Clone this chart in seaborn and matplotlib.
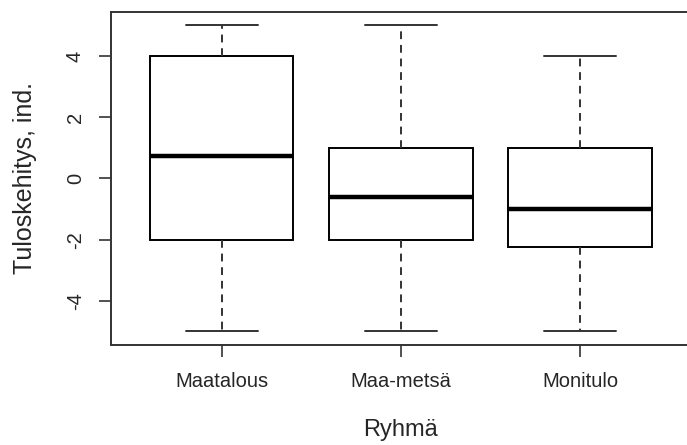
import pandas as pd
import matplotlib
matplotlib.use("Agg")
import matplotlib.pyplot as plt
import seaborn as sns

# Ryhmät ja viiden luvun yhteenveto (min, Q1, mediaani, Q3, max) kuvasta luettuna
groups = ["Maatalous", "Maa-metsä", "Monitulo"]
maatalous = [-5, -2, 0.72, 4, 5]
maa_metsa = [-5, -2, -0.6, 1, 5]
monitulo = [-5, -2.25, -1.0, 1, 4]
yticks = [-4, -2, 0, 2, 4]

df = pd.DataFrame({
    "Ryhmä": [groups[0]] * len(maatalous) + [groups[1]] * len(maa_metsa) + [groups[2]] * len(monitulo),
    "Tulos": maatalous + maa_metsa + monitulo,
})

sns.set_style("white")
plt.rcParams["font.family"] = ["Liberation Sans", "DejaVu Sans"]

fig = plt.figure(figsize=(6.87, 4.45), dpi=100)
ax = fig.add_axes([0.161, 0.225, 0.845, 0.748])

sns.boxplot(
    data=df, x="Ryhmä", y="Tulos", order=groups, ax=ax,
    color="white", linecolor="black", linewidth=1.4, width=0.8,
    whis=(0, 100), showfliers=False,
    whiskerprops=dict(linestyle=(0, (4, 3)), color="#333333"),
    capprops=dict(color="#333333"),
    medianprops=dict(linewidth=3.2, color="black"),
)

ax.set_xlim(0.38 - 1, 3.62 - 1)
ax.set_ylim(-5.44, 5.44)
ax.set_yticks(yticks)
ax.set_yticklabels([str(v) for v in yticks], rotation=90, va="center")
ax.tick_params(axis="both", which="both", direction="out", length=8.5, width=1.2,
               color="#333333", labelsize=14.5, left=True, bottom=True)
ax.tick_params(axis="y", pad=10)
ax.tick_params(axis="x", pad=11)
for sp in ax.spines.values():
    sp.set_visible(True)
    sp.set_color("#333333")
    sp.set_linewidth(1.4)

ax.set_xlabel("Ryhmä", fontsize=17, labelpad=20)
ax.set_ylabel("Tuloskehitys, ind.", fontsize=18, labelpad=21)

fig.savefig("out.png", dpi=100)
